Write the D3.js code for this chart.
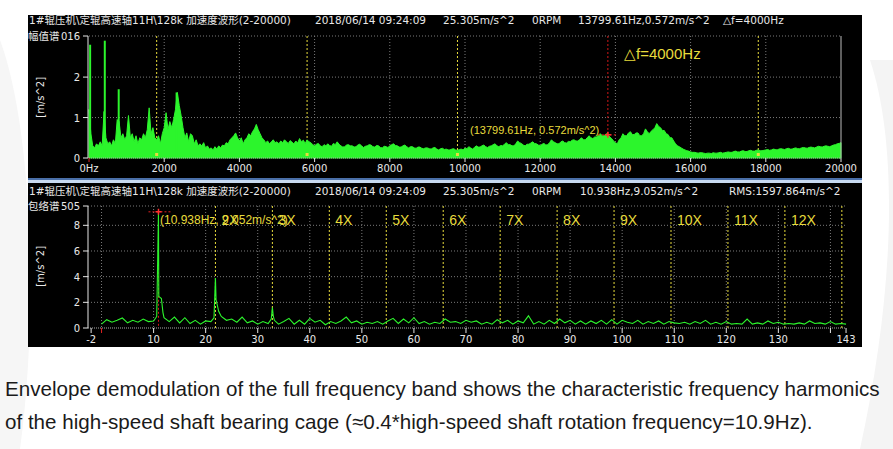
<!DOCTYPE html>
<html><head><meta charset="utf-8">
<script src="https://cdn.jsdelivr.net/npm/d3@7"></script>
<style>html,body{margin:0;padding:0;background:#fff;}svg{display:block}</style>
</head><body><svg id="c" width="893" height="449"></svg>
<script>
// ---------------- DATA ----------------
const headerCommon = ["1#辊压机\\定辊高速轴11H\\128k 加速度波形(2-20000)", "2018/06/14 09:24:09", "25.305m/s^2", "0RPM"];
const headerTopExtra = ["13799.61Hz,0.572m/s^2", "△f=4000Hz"];
const headerBotExtra = ["10.938Hz,9.052m/s^2", "RMS:1597.864m/s^2"];
const topTitle = "幅值谱";
const botTitle = "包络谱";
const yUnit = "[m/s^2]";

// amplitude spectrum, 50 Hz steps from 0 to 20000 Hz (m/s^2)
const topStepHz = 50;
const topAmp = [
 1.2,0.6,0.3,0.25,0.35,0.3,0.4,0.3,1.15,0.5,0.35,0.4,0.3,0.45,0.35,0.95,0.9,0.5,0.6,0.45,
 0.55,1.05,0.5,0.6,0.4,0.55,0.35,0.5,0.45,0.6,0.5,0.7,1.24,0.6,0.75,0.5,0.45,0.55,0.35,0.6,
 0.75,1.12,0.7,0.9,0.75,0.95,1.2,1.62,1.3,1.05,0.75,0.5,0.62,0.4,0.6,0.55,0.35,0.45,0.3,0.35,
 0.3,0.38,0.25,0.3,0.22,0.25,0.2,0.28,0.22,0.3,0.25,0.32,0.3,0.38,0.35,0.45,0.5,0.55,0.62,0.5,
 0.42,0.5,0.35,0.45,0.5,0.6,0.55,0.65,0.72,0.83,0.7,0.6,0.5,0.45,0.38,0.42,0.35,0.4,0.45,0.38,
 0.4,0.35,0.42,0.38,0.45,0.4,0.36,0.43,0.39,0.35,0.42,0.37,0.48,0.4,0.44,0.36,0.45,0.4,0.38,0.33,
 0.3,0.34,0.36,0.3,0.28,0.33,0.3,0.35,0.31,0.29,0.36,0.33,0.4,0.34,0.3,0.27,0.28,0.32,0.33,0.3,
 0.3,0.27,0.28,0.32,0.34,0.3,0.26,0.29,0.3,0.33,0.32,0.28,0.27,0.31,0.3,0.26,0.25,0.29,0.28,0.26,
 0.3,0.33,0.35,0.31,0.3,0.27,0.27,0.3,0.32,0.28,0.25,0.28,0.28,0.25,0.24,0.27,0.27,0.24,0.23,0.25,
 0.25,0.23,0.22,0.25,0.26,0.22,0.2,0.23,0.24,0.21,0.22,0.2,0.2,0.22,0.23,0.2,0.19,0.21,0.22,0.2,
 0.25,0.23,0.28,0.25,0.22,0.26,0.3,0.27,0.27,0.3,0.32,0.28,0.26,0.29,0.3,0.33,0.35,0.3,0.28,0.31,
 0.3,0.34,0.38,0.33,0.33,0.3,0.3,0.35,0.42,0.38,0.36,0.32,0.3,0.34,0.34,0.37,0.4,0.36,0.35,0.32,
 0.3,0.34,0.36,0.32,0.33,0.38,0.45,0.4,0.38,0.35,0.35,0.4,0.42,0.38,0.37,0.41,0.4,0.44,0.45,0.42,
 0.42,0.46,0.5,0.45,0.45,0.5,0.55,0.5,0.48,0.52,0.52,0.57,0.6,0.55,0.55,0.6,0.58,0.52,0.48,0.42,
 0.38,0.35,0.45,0.5,0.6,0.55,0.55,0.62,0.65,0.58,0.58,0.62,0.62,0.55,0.55,0.6,0.72,0.65,0.6,0.66,
 0.7,0.75,0.85,0.78,0.75,0.68,0.68,0.6,0.58,0.5,0.5,0.42,0.35,0.3,0.28,0.25,0.22,0.2,0.18,0.17,
 0.15,0.14,0.14,0.13,0.12,0.13,0.13,0.12,0.11,0.12,0.12,0.11,0.13,0.12,0.12,0.13,0.14,0.12,0.13,0.14,
 0.15,0.14,0.14,0.16,0.17,0.15,0.15,0.17,0.18,0.16,0.16,0.18,0.19,0.17,0.17,0.19,0.2,0.18,0.18,0.19,
 0.2,0.21,0.19,0.2,0.22,0.21,0.2,0.22,0.23,0.22,0.21,0.23,0.24,0.22,0.22,0.24,0.25,0.23,0.23,0.25,
 0.26,0.25,0.24,0.26,0.27,0.26,0.25,0.27,0.29,0.28,0.27,0.29,0.3,0.29,0.28,0.3,0.32,0.33,0.35,0.36,
 0.38];
const topSpikes = [[30,2.8],[420,2.9],[790,1.7],[2330,1.62]];
const topXTicks = [0,2000,4000,6000,8000,10000,12000,14000,16000,18000,20000];
const topXLabels = ["0Hz","2000","4000","6000","8000","10000","12000","14000","16000","18000","20000"];
const topYTicks = [0,1,2,3.016];
const topYLabels = ["0","1","2","016"];
const topHarmHz = [1800,5800,9800,17800];
const topCursor = {f:13799.61, a:0.572, label:"(13799.61Hz, 0.572m/s^2)", delta:"△f=4000Hz"};

// envelope spectrum, 1 Hz grid 0..143 Hz (m/s^2)
const envGrid = [
 0.3,0.65,0.45,0.6,0.78,0.4,0.6,0.45,0.7,0.5,
 0.55,2.45,0.8,0.5,0.85,0.4,0.8,0.35,0.6,0.3,
 0.55,0.5,2.2,0.9,0.6,0.7,0.45,0.85,0.4,0.55,
 0.3,0.5,0.35,0.9,0.3,0.5,0.75,0.3,0.6,0.3,
 0.75,0.45,0.6,0.25,0.5,0.35,0.55,0.85,0.4,0.55,
 0.3,0.45,0.35,0.5,0.3,0.55,0.75,0.35,0.7,0.4,
 0.8,0.35,0.5,0.3,0.45,0.35,0.7,0.45,0.5,0.35,
 0.6,0.45,0.55,0.3,0.45,0.3,0.65,0.4,0.6,0.3,
 0.55,0.4,0.95,0.3,0.5,0.3,0.6,0.35,0.7,0.4,
 0.6,0.3,0.55,0.3,0.55,0.35,0.6,0.3,0.65,0.3,
 0.6,0.45,0.35,0.6,0.3,0.5,0.35,0.55,0.3,0.5,
 0.4,0.35,0.45,0.3,0.5,0.35,0.6,0.3,0.45,0.3,
 0.5,0.3,0.35,0.3,0.7,0.3,0.4,0.3,0.55,0.35,
 0.45,0.3,0.35,0.3,0.4,0.3,0.55,0.35,0.4,0.3,
 0.5,0.3,0.35,0.3];
const envPeaks = [[10.6,0.9],[10.938,9.052],[11.5,2.3],[11.8,1.2],[21.6,0.8],[21.876,3.9],[22.5,1.3],[32.6,0.7],[32.814,1.6],[33.2,0.6]];
const botXTicks = [-2,10,20,30,40,50,60,70,80,90,100,110,120,130,143];
const botXMinor = [0,140];
const botGridX = [0,10,20,30,40,50,60,70,80,90,100,110,120,130,140];
const botYTicks = [0,2,4,6,8,9.505];
const botYLabels = ["0","2","4","6","8","505"];
const baseFreq = 10.938;
const harmOrders = [2,3,4,5,6,7,8,9,10,11,12,13];
const harmLabels = ["2X","3X","4X","5X","6X","7X","8X","9X","10X","11X","12X",""];
const botCursor = {f:10.938, a:9.052, label:"(10.938Hz, 9.052m/s^2)"};

const caption = ["Envelope demodulation of the full frequency band shows the characteristic frequency harmonics",
 "of the high-speed shaft bearing cage (≈0.4*high-speed shaft rotation frequency=10.9Hz)."];

// ---------------- DRAW ----------------
const svg = d3.select("#c");
const FONT = "'DejaVu Sans','Noto Sans CJK SC',sans-serif";
const ARIAL = "'Liberation Sans',Arial,sans-serif";
const GREEN = "#2cf52c", YEL = "#e8dc3c", GRID = "#7a7a7a", AX = "#e6e6e6", TXT = "#e8e8e8";

// faint background decoration
svg.append("path").attr("d","M0,40 C30,120 40,300 20,449 L0,449 Z").attr("fill","#f6f6f6");
svg.append("path").attr("d","M870,60 C900,150 893,300 860,449 L893,449 L893,60 Z").attr("fill","#f4f4f4");

// panel background
svg.append("rect").attr("x",28).attr("y",15).attr("width",834).attr("height",332).attr("fill","#000");
svg.append("rect").attr("x",28).attr("y",178).attr("width",834).attr("height",2).attr("fill","#4a6fa8");
svg.append("rect").attr("x",28).attr("y",180).attr("width",834).attr("height",3).attr("fill","#c8daf0");

function header(y, items, xs){
  items.forEach((t,i)=>svg.append("text").attr("x",xs[i]).attr("y",y).attr("fill",TXT)
    .attr("font-family",FONT).attr("font-size",10.5).text(t));
}
header(24, headerCommon.concat(headerTopExtra), [29,315,443,532,578,723]);
header(195, headerCommon.concat(headerBotExtra), [29,315,443,532,580,729]);

// ---------- TOP PANEL ----------
const xT = d3.scaleLinear().domain([0,20000]).range([89,841]);
const yT = d3.scaleLinear().domain([0,3.016]).range([158,36]);
const gT = svg.append("g");
gT.selectAll(".gx").data(topXTicks.slice(1,-1)).join("line")
  .attr("x1",d=>xT(d)).attr("x2",d=>xT(d)).attr("y1",yT(3.016)).attr("y2",yT(0))
  .attr("stroke",GRID).attr("stroke-dasharray","1,2");
gT.selectAll(".gy").data(topYTicks.slice(1)).join("line")
  .attr("x1",xT(0)).attr("x2",xT(20000)).attr("y1",d=>yT(d)).attr("y2",d=>yT(d))
  .attr("stroke",GRID).attr("stroke-dasharray","1,2");
gT.selectAll(".hx").data(topHarmHz).join("line")
  .attr("x1",d=>xT(d)).attr("x2",d=>xT(d)).attr("y1",yT(3.016)).attr("y2",yT(0))
  .attr("stroke",YEL).attr("stroke-dasharray","2,2");
gT.append("line").attr("x1",xT(topCursor.f)).attr("x2",xT(topCursor.f)).attr("y1",yT(3.016)).attr("y2",yT(0))
  .attr("stroke","#d01818").attr("stroke-dasharray","2,2");
const topPts = topAmp.map((a,i)=>[i*topStepHz,a]);
gT.append("path").datum(topPts)
  .attr("d",d3.area().x(d=>xT(d[0])).y0(yT(0)).y1(d=>yT(d[1])))
  .attr("fill",GREEN).attr("stroke",GREEN).attr("stroke-width",1);
gT.selectAll(".sp").data(topSpikes).join("line")
  .attr("x1",d=>xT(d[0])).attr("x2",d=>xT(d[0])).attr("y1",yT(0)).attr("y2",d=>yT(d[1]))
  .attr("stroke",GREEN).attr("stroke-width",2);
gT.selectAll(".hm").data(topHarmHz).join("rect")
  .attr("x",d=>xT(d)-1.5).attr("y",yT(0)-5).attr("width",3).attr("height",3).attr("fill",YEL);
gT.append("line").attr("x1",88).attr("x2",88).attr("y1",yT(3.016)).attr("y2",yT(0)).attr("stroke",AX);
gT.append("line").attr("x1",xT(0)).attr("x2",xT(20000)).attr("y1",yT(0)).attr("y2",yT(0)).attr("stroke","#aaa").attr("stroke-dasharray","1,1");
gT.append("line").attr("x1",xT(20000)).attr("x2",xT(20000)).attr("y1",yT(3.016)).attr("y2",yT(0)).attr("stroke","#bbb");
gT.selectAll(".yt").data(topYTicks).join("line")
  .attr("x1",83).attr("x2",88).attr("y1",d=>yT(d)).attr("y2",d=>yT(d)).attr("stroke",AX);
gT.selectAll(".ytl").data(topYTicks).join("text")
  .attr("x",80).attr("y",d=>yT(d)+4).attr("text-anchor","end").attr("fill",TXT)
  .attr("font-family",FONT).attr("font-size",10).text((d,i)=>topYLabels[i]);
gT.selectAll(".xt").data(topXTicks).join("line")
  .attr("x1",d=>xT(d)).attr("x2",d=>xT(d)).attr("y1",yT(0)).attr("y2",yT(0)+4)
  .attr("stroke",(d,i)=>i===0?"#e02020":AX);
gT.selectAll(".xtl").data(topXTicks).join("text")
  .attr("x",d=>xT(d)).attr("y",172).attr("text-anchor","middle").attr("fill",TXT)
  .attr("font-family",FONT).attr("font-size",10).text((d,i)=>topXLabels[i]);
svg.append("text").attr("x",28).attr("y",40).attr("fill",TXT).attr("font-family",FONT).attr("font-size",10.5).text(topTitle);
svg.append("text").attr("transform",`translate(44,${yT(1.5)}) rotate(-90)`).attr("text-anchor","middle")
  .attr("fill",TXT).attr("font-family",FONT).attr("font-size",10).text(yUnit);
const cx = xT(topCursor.f), cy = yT(topCursor.a);
gT.append("line").attr("x1",cx-10).attr("x2",cx+10).attr("y1",cy).attr("y2",cy).attr("stroke","#e02020").attr("stroke-dasharray","2,2");
gT.append("path").attr("d",`M${cx-3},${cy}L${cx+3},${cy}M${cx},${cy-3}L${cx},${cy+3}`).attr("stroke","#ff3030").attr("stroke-width",1.5);
gT.append("text").attr("x",470).attr("y",cy-1).attr("fill",YEL).attr("font-family",ARIAL)
  .attr("font-size",11).text(topCursor.label);
gT.append("text").attr("x",624).attr("y",59).attr("fill",YEL).attr("font-family",ARIAL)
  .attr("font-size",15).text(topCursor.delta);

// ---------- BOTTOM PANEL ----------
const xB = d3.scaleLinear().domain([-2.6,142.8]).range([88,845]);
const yB = d3.scaleLinear().domain([0,9.505]).range([328,206]);
const gB = svg.append("g");
gB.selectAll(".gx").data(botGridX).join("line")
  .attr("x1",d=>xB(d)).attr("x2",d=>xB(d)).attr("y1",yB(9.505)).attr("y2",yB(0))
  .attr("stroke",GRID).attr("stroke-dasharray","1,2");
gB.selectAll(".gy").data(botYTicks.slice(1)).join("line")
  .attr("x1",88).attr("x2",xB(142.8)).attr("y1",d=>yB(d)).attr("y2",d=>yB(d))
  .attr("stroke",GRID).attr("stroke-dasharray","1,2");
const harmF = harmOrders.map(n=>n*baseFreq);
gB.selectAll(".hx").data(harmF).join("line")
  .attr("x1",d=>xB(d)).attr("x2",d=>xB(d)).attr("y1",yB(9.505)).attr("y2",yB(0))
  .attr("stroke",YEL).attr("stroke-dasharray","2,2");
gB.append("line").attr("x1",xB(botCursor.f)).attr("x2",xB(botCursor.f)).attr("y1",yB(botCursor.a)).attr("y2",yB(0))
  .attr("stroke","#d01818").attr("stroke-dasharray","2,2");
const envPts = envGrid.map((a,i)=>[i,a]).concat(envPeaks).sort((a,b)=>a[0]-b[0]);
gB.append("path").datum(envPts)
  .attr("d",d3.line().x(d=>xB(d[0])).y(d=>yB(d[1])))
  .attr("fill","none").attr("stroke",GREEN).attr("stroke-width",1.1);
gB.append("line").attr("x1",88).attr("x2",88).attr("y1",yB(9.505)).attr("y2",yB(0)).attr("stroke",AX);
gB.append("line").attr("x1",88).attr("x2",xB(142.8)).attr("y1",yB(0)).attr("y2",yB(0)).attr("stroke","#aaa").attr("stroke-dasharray","1,1");
gB.selectAll(".yt").data(botYTicks).join("line")
  .attr("x1",83).attr("x2",88).attr("y1",d=>yB(d)).attr("y2",d=>yB(d)).attr("stroke",AX);
gB.selectAll(".ytl").data(botYTicks).join("text")
  .attr("x",80).attr("y",d=>yB(d)+4).attr("text-anchor","end").attr("fill",TXT)
  .attr("font-family",FONT).attr("font-size",10).text((d,i)=>botYLabels[i]);
gB.selectAll(".xt").data(botXTicks.concat(botXMinor)).join("line")
  .attr("x1",d=>xB(d)).attr("x2",d=>xB(d)).attr("y1",yB(0)).attr("y2",yB(0)+5)
  .attr("stroke",d=>d===0?"#e02020":AX);
gB.selectAll(".xtl").data(botXTicks).join("text")
  .attr("x",d=>xB(d)).attr("y",343).attr("text-anchor","middle").attr("fill",TXT)
  .attr("font-family",FONT).attr("font-size",10).text(d=>d);
svg.append("text").attr("x",28).attr("y",210).attr("fill",TXT).attr("font-family",FONT).attr("font-size",10.5).text(botTitle);
svg.append("text").attr("transform",`translate(44,${yB(4.8)}) rotate(-90)`).attr("text-anchor","middle")
  .attr("fill",TXT).attr("font-family",FONT).attr("font-size",10).text(yUnit);
gB.selectAll(".hl").data(harmF).join("text")
  .attr("x",d=>xB(d)+6).attr("y",225).attr("fill",YEL)
  .attr("font-family",ARIAL).attr("font-size",14).text((d,i)=>harmLabels[i]);
const bx = xB(botCursor.f), by = yB(botCursor.a);
gB.append("line").attr("x1",bx-10).attr("x2",bx+12).attr("y1",by).attr("y2",by).attr("stroke","#e02020").attr("stroke-dasharray","2,2");
gB.append("path").attr("d",`M${bx-3},${by}L${bx+3},${by}M${bx},${by-3}L${bx},${by+3}`).attr("stroke","#ff3030").attr("stroke-width",1.5);
gB.append("text").attr("x",160).attr("y",224).attr("fill",YEL).attr("font-family",ARIAL)
  .attr("font-size",12).text(botCursor.label);

// caption
caption.forEach((t,i)=>svg.append("text").attr("x",5).attr("y",396+i*33)
  .attr("fill","#1a1a1a").attr("font-family",ARIAL).attr("font-size",20.6).text(t));
</script></body></html>
